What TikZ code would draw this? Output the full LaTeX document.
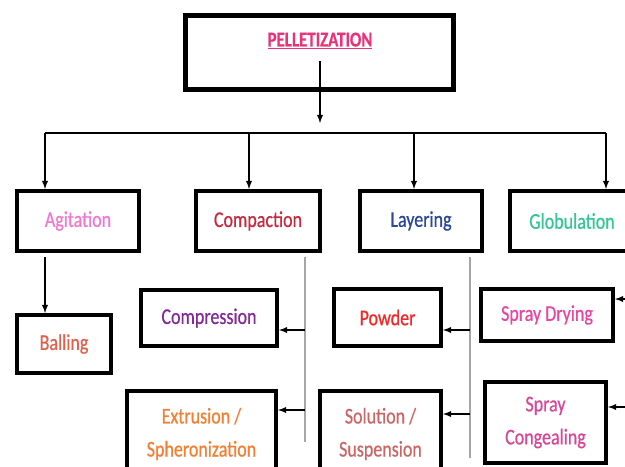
\documentclass[tikz,border=0pt]{standalone}
\usepackage{fontspec}
\setmainfont{Carlito}[FakeStretch=0.8,FakeBold=0.6]
\usepackage{tikz}

\tikzset{
  box/.style={draw=black,line width=0.1cm,fill=white,inner sep=0pt,align=center,
    font=\fontsize{16}{23.5}\selectfont},
  arr/.style={->,>=latex,line width=0.035cm},
  trunk/.style={draw=black!35,line width=0.03cm},
}

\begin{document}
\begin{tikzpicture}[x=0.025cm,y=-0.025cm]
			\definecolor{cpel}{rgb}{0.91,0.20,0.48}
			\definecolor{cagi}{rgb}{0.94,0.47,0.82}
			\definecolor{ccom}{rgb}{0.78,0.16,0.24}
			\definecolor{clay}{rgb}{0.17,0.28,0.60}
			\definecolor{cglo}{rgb}{0.20,0.78,0.58}
			\definecolor{cbal}{rgb}{0.88,0.38,0.30}
			\definecolor{ccmp}{rgb}{0.52,0.16,0.60}
			\definecolor{cext}{rgb}{0.95,0.50,0.20}
			\definecolor{cpow}{rgb}{0.94,0.16,0.16}
			\definecolor{csol}{rgb}{0.80,0.40,0.40}
			\definecolor{cspd}{rgb}{0.90,0.28,0.64}
			\definecolor{cspc}{rgb}{0.84,0.28,0.60}
			%
			\useasboundingbox (0,0) rectangle (625,467);
			%
			\node[box,line width=0.125cm,minimum width=6.70cm,minimum height=1.85cm] (pel) at (319.5,52.5) {};
			\node[text=cpel,inner sep=1pt,font=\fontsize{15}{17}\selectfont\bfseries] (pelT) at (320,41) {\underline{PELLETIZATION}};
			%
			\node[box,text=cagi,minimum width=3.05cm,minimum height=1.5cm] (agi) at (78,221) {Agitation};
			\node[box,text=ccom,minimum width=3.10cm,minimum height=1.5cm] (com) at (258,221) {Compaction};
			\node[box,text=clay,minimum width=3.05cm,minimum height=1.5cm] (lay) at (421,221) {Layering};
			\node[box,text=cglo,minimum width=3.10cm,minimum height=1.5cm] (glo) at (572,221) {Globulation};
			%
			\node[box,text=cbal,minimum width=2.35cm,minimum height=1.45cm] (bal) at (64,344) {Balling};
			\node[box,text=ccmp,minimum width=3.40cm,minimum height=1.40cm] (cmp) at (209,318) {Compression};
			\node[box,text=cext,minimum width=3.725cm,minimum height=2.15cm] (ext) at (201.5,434) {Extrusion /\\Spheronization};
			\node[box,text=cpow,minimum width=2.675cm,minimum height=1.425cm] (pow) at (387.5,317.5) {Powder};
			\node[box,text=csol,minimum width=3.025cm,minimum height=2.15cm] (sol) at (380.5,434) {Solution /\\Suspension};
			\node[box,text=cspd,minimum width=3.30cm,minimum height=1.30cm] (spd) at (547,315) {Spray Drying};
			\node[box,text=cspc,minimum width=3.025cm,minimum height=2.025cm] (spc) at (545.5,422.5) {Spray\\Congealing};
			%
			\coordinate (bus) at (319,133);
			\coordinate (b1) at (45,133);
			\coordinate (b2) at (249,133);
			\coordinate (b3) at (414,133);
			\coordinate (b4) at (606,133);
			\coordinate (comTop) at (305,257);
			\coordinate (comBot) at (305,442);
			\coordinate (layTop) at (470,257);
			\coordinate (layBot) at (470,458);
			\coordinate (c1) at (305,330);
			\coordinate (c2) at (305,410);
			\coordinate (l1) at (470,330);
			\coordinate (l2) at (470,414);
			\coordinate (g1) at (630,299);
			\coordinate (g2) at (630,407);
			%
			\draw[arr,shorten <=0.25cm,shorten >=0.25cm] (pelT.south) -- (pelT.south |- bus);
			\draw[line width=0.035cm] (b1) -- (b4);
			\draw[arr] (b1) -- (b1 |- agi.north);
			\draw[arr] (b2) -- (b2 |- com.north);
			\draw[arr] (b3) -- (b3 |- lay.north);
			\draw[arr] (b4) -- (b4 |- glo.north);
			\draw[arr,shorten <=0.1cm] (agi.south -| b1) -- (b1 |- bal.north);
			%
			\draw[trunk] (comTop) -- (comBot);
			\draw[trunk] (layTop) -- (layBot);
			\draw[arr] (c1) -- (c1 -| cmp.east);
			\draw[arr] (c2) -- (c2 -| ext.east);
			\draw[arr] (l1) -- (l1 -| pow.east);
			\draw[arr] (l2) -- (l2 -| sol.east);
			\draw[arr] (g1) -- (g1 -| spd.east);
			\draw[arr] (g2) -- (g2 -| spc.east);
			%
\end{tikzpicture}
\end{document}
